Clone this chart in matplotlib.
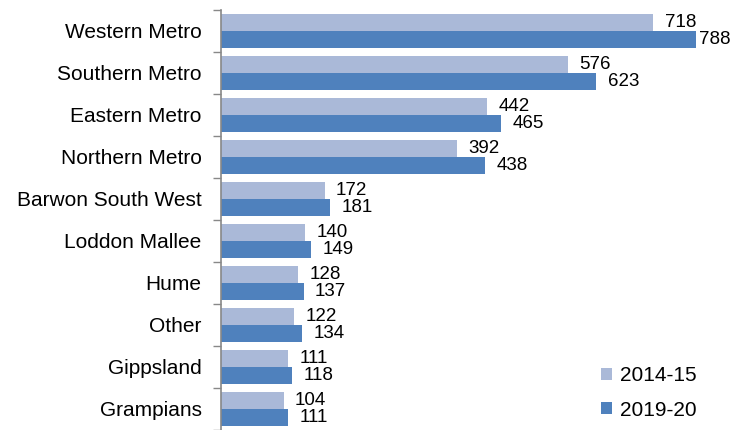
import matplotlib.pyplot as plt
import numpy as np

plt.rcParams['font.family'] = ['Liberation Sans', 'DejaVu Sans']

regions = ['Western Metro', 'Southern Metro', 'Eastern Metro', 'Northern Metro',
           'Barwon South West', 'Loddon Mallee', 'Hume', 'Other', 'Gippsland', 'Grampians']
y2014 = [718, 576, 442, 392, 172, 140, 128, 122, 111, 104]
y2019 = [788, 623, 465, 438, 181, 149, 137, 134, 118, 111]

fig = plt.figure(figsize=(7.33, 4.30), dpi=100)
ax = fig.add_axes([221/733, 0, 1 - 221/733, 420/430])

n = len(regions)
pos = np.arange(n)
w = 0.4
xmax = 850

b1 = ax.barh(pos - w/2, y2014, height=w, color='#AAB9D8', label='2014-15')
b2 = ax.barh(pos + w/2, y2019, height=w, color='#4F81BD', label='2019-20')

# labels sit just right of the bar, pushed back inside if they would run off the edge
for bars, vals in [(b1, y2014), (b2, y2019)]:
    for b, v in zip(bars, vals):
        x = min(v + 19, xmax - 56)
        ax.text(x, b.get_y() + b.get_height()/2, str(v), va='center', ha='left',
                fontsize=13.5)

ax.set_ylim(n - 0.5, -0.5)
ax.set_xlim(0, xmax)
ax.set_yticks(pos)
ax.set_yticklabels(regions, fontsize=15)
ax.set_yticks(np.arange(n + 1) - 0.5, minor=True)
ax.tick_params(axis='y', which='major', length=0, pad=14)
ax.tick_params(axis='y', which='minor', length=6, color='#888888', width=1)
ax.set_xticks([])
for s in ['top', 'right', 'bottom']:
    ax.spines[s].set_visible(False)
ax.spines['left'].set_color('#888888')
ax.spines['left'].set_linewidth(1.2)

ax.legend(loc='lower left', bbox_to_anchor=(0.706, -0.02), frameon=False, fontsize=15,
          handlelength=0.5, handleheight=0.5, handletextpad=0.4, labelspacing=0.75)

fig.savefig('out.png', dpi=100)
